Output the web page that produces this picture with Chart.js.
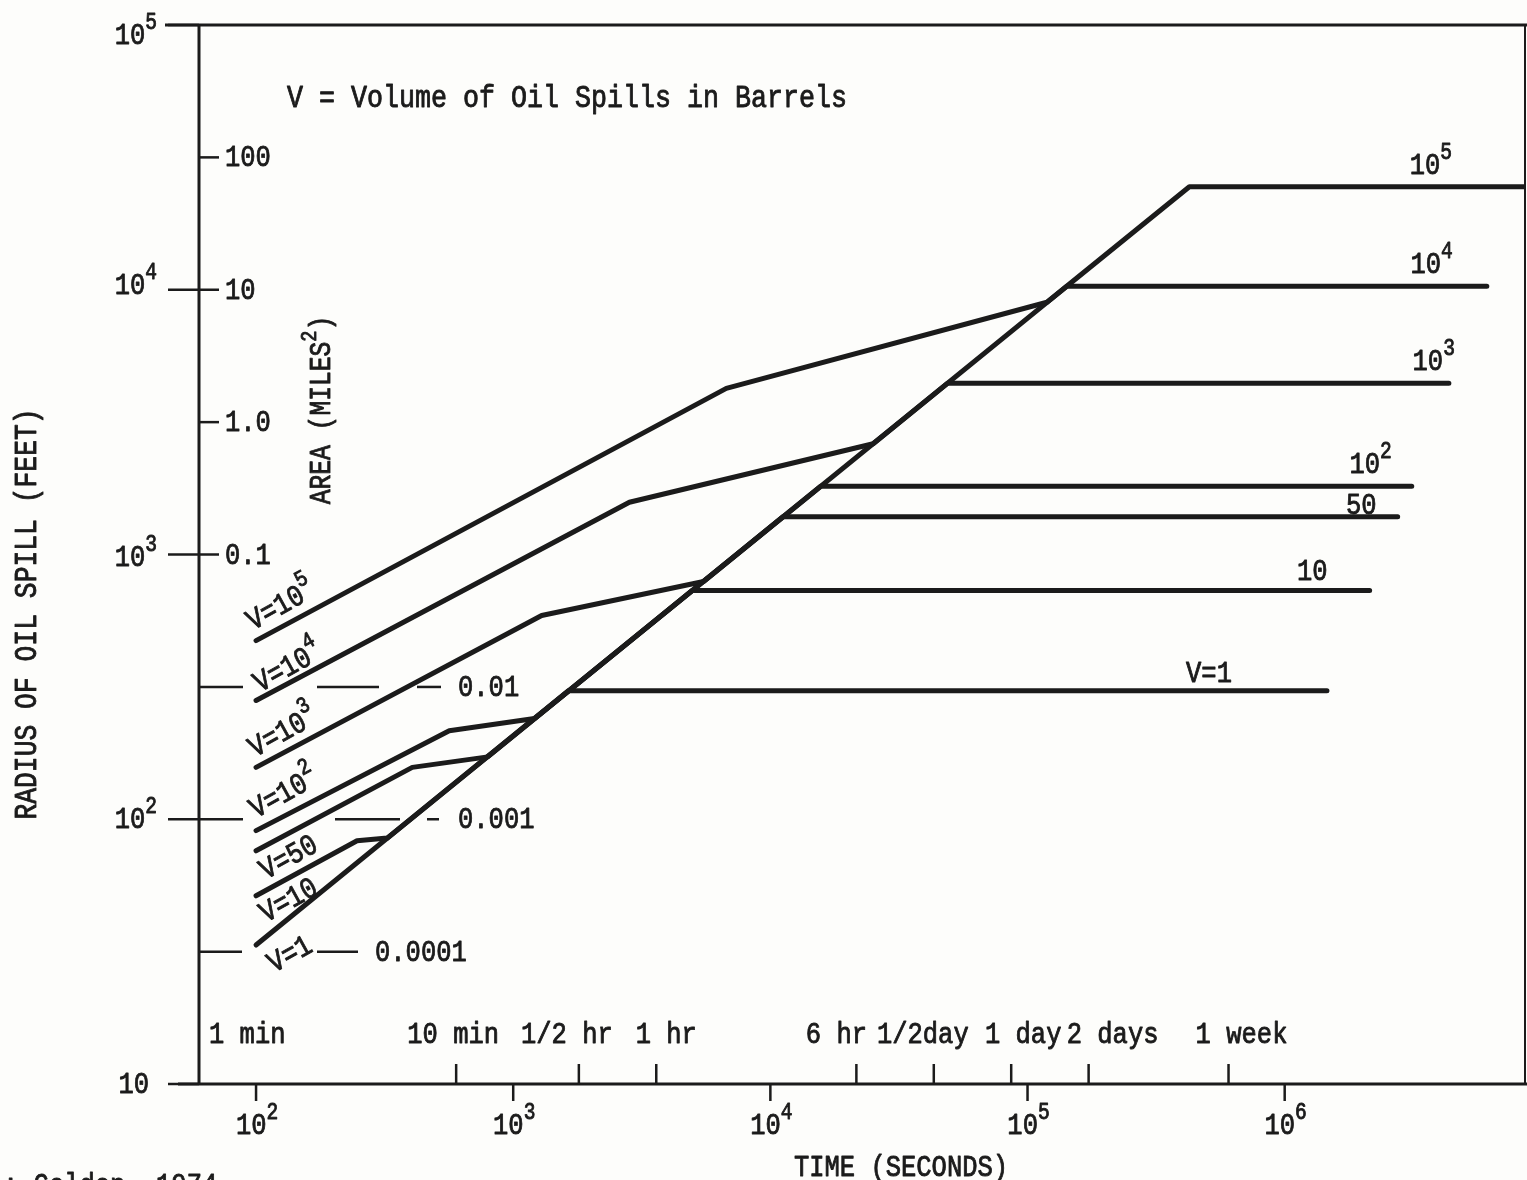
<!DOCTYPE html>
<html>
<head>
<meta charset="utf-8">
<title>Oil spill radius vs time</title>
<script src="https://cdn.jsdelivr.net/npm/chart.js@4.4.0/dist/chart.umd.min.js"></script>
<style>
  html, body { margin: 0; padding: 0; background: #fdfdfb; }
  canvas { display: block; }
</style>
</head>
<body>
<canvas id="spillChart" width="1527" height="1180"></canvas>
<script>
// spill radius vs time, one polyline per spill volume (barrels)

// ---- axis ticks ----
const timeTickValues = [60, 600, 1800, 3600, 21600, 43200, 86400, 172800, 604800];
const timeTickLabels = ["1 min", "10 min", "1/2 hr", "1 hr", "6 hr", "1/2day", "1 day", "2 days", "1 week"];
const decadeTicksX = [100, 1000, 10000, 100000, 1000000];
const decadeExpX = ["2", "3", "4", "5", "6"];
const decadeTicksY = [10, 100, 1000, 10000, 100000];
const decadeExpY = ["", "2", "3", "4", "5"];
const areaTickRadius = [31623, 10000, 3162, 1000, 316, 100, 31.6];
const areaTickLabels = ["100", "10", "1.0", "0.1", "0.01", "0.001", "0.0001"];

// ---- series (time in seconds, radius in feet) ----
const v1Time   = [100, 1640, 1460000];
const v1Radius = [33.5, 306, 306];
const v10Time   = [100, 247, 324, 4970, 2140000];
const v10Radius = [51.4, 82.9, 84.9, 731, 731];
const v50Time   = [100, 405, 796, 11200, 2750000];
const v50Radius = [76, 157, 172, 1390, 1390];
const v1e2Time   = [100, 564, 1210, 15700, 3120000];
const v1e2Radius = [90.6, 216, 240, 1810, 1810];
const v1e3Time   = [100, 1290, 5500, 48800, 4350000];
const v1e3Radius = [157, 588, 791, 4430, 4430];
const v1e4Time   = [100, 2830, 25100, 142000, 6110000];
const v1e4Radius = [281, 1576, 2620, 10300, 10300];
const v1e5Time   = [100, 6740, 119000, 426000, 8600000];
const v1e5Radius = [473, 4242, 8970, 24500, 24500];

const seriesNames = ["V=1", "V=10", "V=50", "V=10^2", "V=10^3", "V=10^4", "V=10^5"];
const startLabels = ["V=1", "V=10", "V=50", "V=10", "V=10", "V=10", "V=10"];
const endLabels   = ["V=1", "10", "50", "10", "10", "10", "10"];
const labelExp    = ["", "", "", "2", "3", "4", "5"];

const seriesTime   = [v1Time, v10Time, v50Time, v1e2Time, v1e3Time, v1e4Time, v1e5Time];
const seriesRadius = [v1Radius, v10Radius, v50Radius, v1e2Radius, v1e3Radius, v1e4Radius, v1e5Radius];

const INK = "#1b1b1b";
const PAPER = "#fdfdfb";
const FONT = '"Liberation Mono", "DejaVu Sans Mono", monospace';

// text with optional superscripts; parts = [[text, isSup], ...]
function richText(ctx, parts, x, y, o) {
  o = o || {};
  const size = o.size || 30, sx = o.sx || 0.85;
  const supSize = Math.round(size * 0.76), rise = size * 0.5;
  ctx.save();
  ctx.translate(x, y);
  if (o.rotate) ctx.rotate(o.rotate);
  ctx.scale(sx, 1);
  ctx.fillStyle = INK;
  ctx.strokeStyle = INK;
  ctx.lineWidth = 0.9;
  ctx.lineJoin = "round";
  ctx.textAlign = "left";
  ctx.textBaseline = "alphabetic";
  const widths = parts.map(([t, sup]) => {
    ctx.font = (sup ? supSize : size) + "px " + FONT;
    return ctx.measureText(t).width;
  });
  const total = widths.reduce((a, b) => a + b, 0);
  let cx = o.align === "right" ? -total : o.align === "center" ? -total / 2 : 0;
  parts.forEach(([t, sup], i) => {
    ctx.font = (sup ? supSize : size) + "px " + FONT;
    ctx.fillText(t, cx, sup ? -rise : 0);
    ctx.strokeText(t, cx, sup ? -rise : 0);
    cx += widths[i];
  });
  ctx.restore();
}

function seg(ctx, x1, y1, x2, y2) {
  ctx.beginPath();
  ctx.moveTo(x1, y1);
  ctx.lineTo(x2, y2);
  ctx.stroke();
}

// layout tweaks (pixels) for the hand-placed labels
const startLabelOffset = [[18, 28], [10, 27], [10, 29], [0, -12], [-1, -10], [4, -8], [-3, -10]];
const endLabelOffset = [[-95, -9], [-42, -11], [-21, -3], [-20, -13], [6, -13], [-34, -13], [-73, -13]];
const timeLabelShift = [0, -3, -12, 10, -20, -11, 12, 24, 13];
const areaSegments = [
  [[0, 20]], [[0, 20]], [[0, 20]], [[0, 20]],
  [[0, 44], [118, 180], [218, 242]],
  [[0, 44], [136, 201], [228, 240]],
  [[0, 43], [118, 159]]
];
const areaLabelDx = [26, 26, 26, 26, 259, 259, 176];
const yLabelDy = [9, 9, 11, 4, 19];

const paperPlugin = {
  id: "paperAxes",
  beforeDraw(chart) {
    const ctx = chart.ctx;
    ctx.save();
    ctx.fillStyle = PAPER;
    ctx.fillRect(0, 0, chart.width, chart.height);
    ctx.restore();
  },
  beforeDatasetsDraw(chart) {
    const { ctx, chartArea: a, scales: { x, y } } = chart;
    ctx.save();
    ctx.strokeStyle = INK;
    ctx.lineCap = "butt";

    // frame
    ctx.lineWidth = 3;
    seg(ctx, 165, a.top, chart.width, a.top);
    seg(ctx, a.left, a.top - 1, a.left, a.bottom + 1);
    seg(ctx, 178, a.bottom, chart.width, a.bottom);
    ctx.lineWidth = 2;
    seg(ctx, a.right, a.top, a.right, a.bottom);

    // radius ticks, outside left
    ctx.lineWidth = 2.5;
    decadeTicksY.forEach(v => {
      const py = y.getPixelForValue(v);
      seg(ctx, 168, py, a.left, py);
    });

    // area ticks, inside
    areaTickRadius.forEach((r, i) => {
      const py = y.getPixelForValue(r);
      areaSegments[i].forEach(([s, e]) => seg(ctx, a.left + s, py, a.left + e, py));
    });

    // time-of-day ticks (up) and decade ticks (down)
    timeTickValues.forEach((t, i) => {
      if (i === 0) return;
      const px = x.getPixelForValue(t);
      seg(ctx, px, a.bottom - 20, px, a.bottom);
    });
    decadeTicksX.forEach(t => {
      const px = x.getPixelForValue(t);
      seg(ctx, px, a.bottom, px, a.bottom + 17);
    });
    ctx.restore();
  },
  afterDatasetsDraw(chart) {
    const { ctx, chartArea: a, scales: { x, y } } = chart;

    // left decade labels
    decadeTicksY.forEach((v, i) => {
      const py = y.getPixelForValue(v);
      const parts = decadeExpY[i] ? [["10"], [decadeExpY[i], true]] : [["10"]];
      richText(ctx, parts, decadeExpY[i] ? 157 : 149, py + yLabelDy[i], { align: "right" });
    });

    // area labels
    areaTickRadius.forEach((r, i) => {
      const py = y.getPixelForValue(r);
      richText(ctx, [[areaTickLabels[i]]], a.left + areaLabelDx[i], py + 9, {});
    });

    // time labels
    timeTickValues.forEach((t, i) => {
      if (i === 0) {
        richText(ctx, [[timeTickLabels[i]]], a.left + 10, a.bottom - 41, {});
        return;
      }
      const px = x.getPixelForValue(t) + timeLabelShift[i];
      richText(ctx, [[timeTickLabels[i]]], px, a.bottom - 41, { align: "center" });
    });

    // bottom decade labels
    decadeTicksX.forEach((t, i) => {
      const px = x.getPixelForValue(t);
      richText(ctx, [["10"], [decadeExpX[i], true]], px + 1, a.bottom + 50, { align: "center" });
    });

    // series labels
    seriesTime.forEach((times, i) => {
      const rad = seriesRadius[i];
      const parts = labelExp[i] ? [[startLabels[i]], [labelExp[i], true]] : [[startLabels[i]]];
      const sx = x.getPixelForValue(times[0]) + startLabelOffset[i][0];
      const sy = y.getPixelForValue(rad[0]) + startLabelOffset[i][1];
      richText(ctx, parts, sx, sy, { rotate: -29 * Math.PI / 180 });

      const n = times.length - 1;
      const endParts = labelExp[i] ? [[endLabels[i]], [labelExp[i], true]] : [[endLabels[i]]];
      const ex = Math.min(x.getPixelForValue(times[n]), a.right) + endLabelOffset[i][0];
      const ey = y.getPixelForValue(rad[n]) + endLabelOffset[i][1];
      richText(ctx, endParts, ex, ey, { align: "right" });
    });

    // titles and notes
    richText(ctx, [["V = Volume of Oil Spills in Barrels"]], 287, 107, { size: 31, sx: 0.86 });
    richText(ctx, [["TIME (SECONDS)"]], 901, 1176, { size: 30, align: "center" });
    richText(ctx, [["RADIUS OF OIL SPILL (FEET)"]], 36, 614, { size: 31, align: "center", rotate: -Math.PI / 2 });
    richText(ctx, [["AREA (MILES"], ["2", true], [")"]], 330, 410, { size: 29, align: "center", rotate: -Math.PI / 2 });
    richText(ctx, [[": Golden, 1974"]], 3, 1194, { size: 30 });
  }
};

const datasets = seriesNames.map((name, i) => ({
  label: name,
  data: seriesTime[i].map((t, k) => ({ x: t, y: seriesRadius[i][k] })),
  borderColor: INK,
  borderWidth: 5,
  pointRadius: 0,
  borderCapStyle: "round",
  borderJoinStyle: "round",
  tension: 0,
  fill: false
}));

const spillChart = new Chart(document.getElementById("spillChart"), {
  type: "line",
  data: { datasets },
  options: {
    responsive: false,
    animation: false,
    devicePixelRatio: 1,
    layout: { padding: { left: 199, right: 2, top: 25, bottom: 96 } },
    plugins: { legend: { display: false }, tooltip: { enabled: false } },
    scales: {
      x: { type: "logarithmic", min: 60, max: 8600000, display: false },
      y: { type: "logarithmic", min: 10, max: 100000, display: false }
    }
  },
  plugins: [paperPlugin]
});
</script>
</body>
</html>
